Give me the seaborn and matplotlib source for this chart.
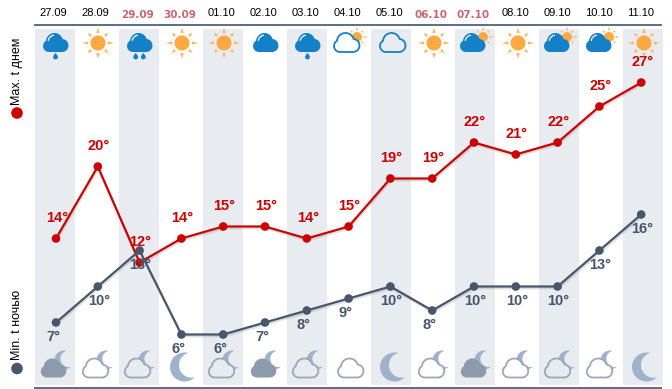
import matplotlib
matplotlib.use('Agg')
import matplotlib.pyplot as plt
import numpy as np
import pandas as pd
import seaborn as sns
from matplotlib.patches import Circle, Polygon, Rectangle
from matplotlib.patheffects import Normal, SimpleLineShadow
from matplotlib.transforms import Affine2D

dates = ['27.09', '28.09', '29.09', '30.09', '01.10', '02.10', '03.10', '04.10',
         '05.10', '06.10', '07.10', '08.10', '09.10', '10.10', '11.10']
weekend = ['29.09', '30.09', '06.10', '07.10']
t_max = [14, 20, 12, 14, 15, 15, 14, 15, 19, 19, 22, 21, 22, 25, 27]
t_min = [7, 10, 13, 6, 6, 7, 8, 9, 10, 8, 10, 10, 10, 13, 16]
day_icons = ['rain1', 'sun', 'rain2', 'sun', 'sun', 'cloud', 'rain1', 'outline_sun',
             'outline', 'sun', 'cloud_sun', 'sun', 'cloud_sun', 'cloud_sun', 'sun']
night_icons = ['cloud_moon', 'outline_moon', 'outline_moon', 'moon', 'outline_moon',
               'cloud_moon', 'outline_moon', 'outline', 'moon', 'outline_moon',
               'cloud_moon', 'outline_moon', 'outline_moon', 'outline_moon', 'moon']

RED = '#cc0000'
SLATE = '#47566b'
BAND = '#e8ebf0'
RULE = '#5f7089'
BLUE = '#1480c8'
ORANGE = '#ffa940'
NIGHT_FILL = '#8c9aab'
NIGHT_LINE = '#9aa8ba'
MOON = '#9fb2cc'

sns.set_theme(style='white')
plt.rcParams['font.family'] = ['Liberation Sans', 'DejaVu Sans']

fig = plt.figure(figsize=(6.72, 3.89), dpi=100)
ax = fig.add_axes([0, 0, 1, 1])
ax.set_axis_off()

# one pixel of the picture = one unit here, y going down
px = Affine2D().scale(1, -1).translate(0, 389)
STEP = 41.8


def add_poly(points, **kw):
    kw.setdefault('lw', 0)
    ax.add_patch(Polygon(points, closed=True, transform=px, clip_on=False, **kw))


def sun(x, y, scale=1.0):
    for k in range(8):
        a = k * np.pi / 4
        r0, r1 = (10, 15.7) if k % 2 == 0 else (10, 14.5)
        c, s = np.cos(a), np.sin(a)
        add_poly([(x + r0 * scale * c - 1.6 * scale * s, y + r0 * scale * s + 1.6 * scale * c),
                  (x + r1 * scale * c, y + r1 * scale * s),
                  (x + r0 * scale * c + 1.6 * scale * s, y + r0 * scale * s - 1.6 * scale * c)],
                 color='#ffb55e', zorder=3)
    ax.add_patch(Circle((x, y), 7.5 * scale, color=ORANGE, lw=0, transform=px, zorder=3))


def cloud_outline(x, y):
    lobes = [(-6.5, 3, 6), (-1, -1.5, 8.5), (6.5, 2.5, 6.5)]
    xs = np.linspace(-12.5, 13, 70)
    tops = []
    for v in xs:
        tops.append(min(cy - np.sqrt(max(r ** 2 - (v - cx) ** 2, 0))
                        for cx, cy, r in lobes if abs(v - cx) <= r))
    pts = list(zip(x + xs, y + np.array(tops)))
    for a in np.linspace(0, np.pi / 2, 10):
        pts.append((x + 6.5 + 6.5 * np.cos(a), y + 2.5 + 6.5 * np.sin(a)))
    for a in np.linspace(np.pi / 2, np.pi, 10):
        pts.append((x - 6.5 + 6 * np.cos(a), y + 3 + 6 * np.sin(a)))
    return pts


def cloud(x, y, fill, edge=None, gloss=False):
    if edge is None:
        add_poly(cloud_outline(x, y), color=fill, zorder=4)
    else:
        add_poly(cloud_outline(x, y), facecolor=fill, edgecolor=edge, lw=1.3, zorder=4)
    if gloss:
        a = np.linspace(np.pi * 1.05, np.pi * 1.45, 12)
        ax.plot(x - 1 + 6.3 * np.cos(a), y - 1.5 + 6.3 * np.sin(a), color='white',
                lw=0.9, transform=px, zorder=5)


def moon(x, y, R):
    # crescent open towards the right, tilted slightly up
    r = R * 0.866
    d = R * 0.5
    theta = np.radians(-15)
    a = (R ** 2 - r ** 2 + d ** 2) / (2 * d)
    alpha = np.arccos(a / R)
    beta = np.arccos((d - a) / r)
    outer = np.linspace(alpha, 2 * np.pi - alpha, 50) + theta
    inner = np.linspace(np.pi + beta, np.pi - beta, 30) + theta
    pts = list(zip(x + R * np.cos(outer), y + R * np.sin(outer)))
    pts += list(zip(x + d * np.cos(theta) + r * np.cos(inner),
                    y + d * np.sin(theta) + r * np.sin(inner)))
    add_poly(pts, color=MOON, zorder=3)


def drop(x, y):
    a = np.linspace(-np.pi * 0.2, np.pi * 1.2, 20)
    pts = [(x, y - 3.2)] + list(zip(x + 2.4 * np.cos(a), y + 1.0 + 2.4 * np.sin(a)))
    add_poly(pts, color=BLUE, zorder=4)


def draw_day(kind, x, band):
    if kind == 'sun':
        sun(x, 43)
    elif kind == 'rain1':
        cloud(x - 0.5, 43, BLUE, gloss=True)
        drop(x - 0.5, 56)
    elif kind == 'rain2':
        cloud(x - 0.5, 43, BLUE, gloss=True)
        drop(x - 4.3, 56)
        drop(x + 3.3, 56)
    elif kind == 'cloud':
        cloud(x - 0.5, 43, BLUE, gloss=True)
    elif kind == 'outline':
        cloud(x + 0.5, 43, band, BLUE)
    elif kind == 'outline_sun':
        sun(x + 7, 37, 0.66)
        cloud(x - 3.5, 43, band, BLUE)
    elif kind == 'cloud_sun':
        sun(x + 7, 37, 0.66)
        cloud(x - 3.5, 43, BLUE, gloss=True)


def draw_night(kind, x, band):
    if kind == 'moon':
        moon(x + 2.5, 367, 14.5)
    elif kind == 'cloud_moon':
        moon(x + 8, 360, 9.5)
        cloud(x - 2.7, 368.5, NIGHT_FILL)
    elif kind == 'outline_moon':
        moon(x + 8, 360, 9.5)
        cloud(x - 2.7, 368.5, band, NIGHT_LINE)
    elif kind == 'outline':
        cloud(x + 0.5, 368.5, band, NIGHT_LINE)


# bands and rules
for i in range(0, len(dates), 2):
    ax.add_patch(Rectangle((35 + 42 * i, 29), 40, 356, color=BAND, lw=0, transform=px, zorder=0))
ax.add_patch(Rectangle((34, 23.7), 628, 2, color=RULE, lw=0, transform=px, zorder=1))
ax.add_patch(Rectangle((34, 386.5), 628, 2.5, color=RULE, lw=0, transform=px, zorder=1))

df = pd.DataFrame({
    'day': list(range(len(dates))) * 2,
    'temp': t_max + t_min,
    'series': ['max'] * len(t_max) + ['min'] * len(t_min),
})
sns.lineplot(data=df, x='day', y='temp', hue='series', palette={'max': RED, 'min': SLATE},
             marker='o', markersize=6.2, markeredgewidth=0, linewidth=1.6,
             estimator=None, legend=False, ax=ax)
for line in ax.lines:
    line.set_zorder(6)
    line.set_path_effects([SimpleLineShadow(offset=(0.6, -1.3), alpha=0.2, shadow_color='#666666'),
                           Normal()])

# 12 px per degree, 41.8 px per day
ax.set_xlim(-56 / STEP, (672 - 56) / STEP)
ax.set_ylim((406.5 - 389) / 12, 406.5 / 12)

for i, v in enumerate(t_max):
    ax.annotate(f'{v}°', xy=(i, v), xytext=(1, 20.5), textcoords='offset pixels', ha='center',
                va='center', color=RED, fontsize=10.5, fontweight='bold', zorder=8)
for i, v in enumerate(t_min):
    dx = -3 if v < 10 else 1
    ax.annotate(f'{v}°', xy=(i, v), xytext=(dx, -14.5), textcoords='offset pixels', ha='center',
                va='center', color=SLATE, fontsize=10.5, fontweight='bold', zorder=8)

for i, d in enumerate(dates):
    if d in weekend:
        x, y = px.transform((53.3 + 42 * i, 15.3))
        fig.text(x / 672, y / 389, d, ha='center', va='center', color='#c9666e', fontsize=7.5,
                 fontweight='bold', family='DejaVu Sans')
    else:
        x, y = px.transform((53 + 42 * i, 13.3))
        fig.text(x / 672, y / 389, d, ha='center', va='center', color='black', fontsize=8)

for i in range(len(dates)):
    band = BAND if i % 2 == 0 else 'white'
    draw_day(day_icons[i], 56 + 42 * i, band)
    draw_night(night_icons[i], 56 + 42 * i, band)

# rotated series captions with their dots
fig.text(17 / 672, 1 - 71 / 389, 'Max. t днем', rotation=90, ha='center', va='center',
         color='black', fontsize=9)
fig.text(17 / 672, 1 - 325 / 389, 'Min. t ночью', rotation=90, ha='center', va='center',
         color='black', fontsize=9)
ax.add_patch(Circle((17, 113), 5.8, color=RED, lw=0, transform=px))
ax.add_patch(Circle((17, 368.5), 5.8, color=SLATE, lw=0, transform=px))

fig.savefig('out.png', dpi=100)
